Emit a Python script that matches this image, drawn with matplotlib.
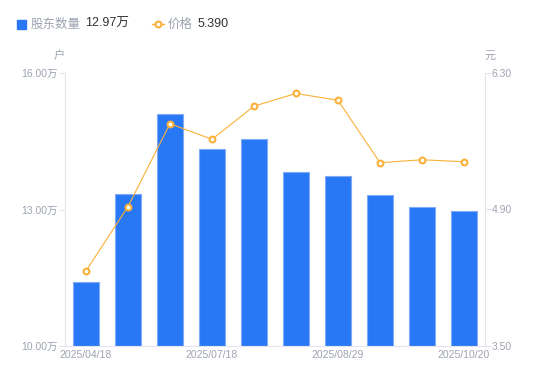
import matplotlib.pyplot as plt
from matplotlib.lines import Line2D
from matplotlib.patches import Rectangle

plt.rcParams['font.family'] = ['Liberation Sans', 'Noto Sans CJK SC']

# data
dates = ['2025/04/18', '', '', '2025/07/18', '', '', '2025/08/29', '', '', '2025/10/20']
holders = [11.41, 13.34, 15.10, 14.33, 14.55, 13.82, 13.74, 13.32, 13.05, 12.97]  # 万户
price = [4.27, 4.93, 5.78, 5.62, 5.96, 6.09, 6.02, 5.38, 5.41, 5.39]

left_ticks = [10.0, 13.0, 16.0]
right_ticks = [3.50, 4.90, 6.30]

blue = '#2878F5'
orange = '#F9B139'
grey = '#9EA3B0'
axis_col = '#E3E5EA'

fig = plt.figure(figsize=(5.5, 3.81), dpi=100)
ax = fig.add_axes([65 / 550, 1 - 346 / 381, 420 / 550, 273 / 381])
ax2 = ax.twinx()

x = list(range(len(holders)))
ax.bar(x, [h - 10 for h in holders], bottom=10, width=0.6, color=blue,
       edgecolor='#7FAAF5', linewidth=0.8, zorder=2)
ax.set_xlim(-0.5, len(holders) - 0.5)
ax.set_ylim(10, 16)

ax2.plot(x, price, color=orange, linewidth=0.8, marker='o', markersize=4.2,
         markerfacecolor='white', markeredgecolor=orange, markeredgewidth=1.5, zorder=3)
ax2.set_ylim(3.5, 6.3)

ax.set_yticks(left_ticks)
ax.set_yticklabels(['%.2f万' % v for v in left_ticks])
ax2.set_yticks(right_ticks)
ax2.set_yticklabels(['%.2f' % v for v in right_ticks])

ax.set_xticks(x)
ax.set_xticklabels(dates)

for a in (ax, ax2):
    for s in a.spines.values():
        s.set_visible(False)
    a.tick_params(axis='y', colors=axis_col, labelcolor=grey, labelsize=7.5,
                  length=4, width=0.8, pad=1)
ax.tick_params(axis='x', length=0, labelcolor=grey, labelsize=7.5, pad=3)
ax.spines['left'].set_visible(True)
ax.spines['left'].set_color(axis_col)
ax.spines['bottom'].set_visible(True)
ax.spines['bottom'].set_color(axis_col)
ax2.spines['right'].set_visible(True)
ax2.spines['right'].set_color(axis_col)

# unit labels
fig.text(59 / 550, 1 - 56 / 381, '户', color=grey, fontsize=8, ha='center', va='center',
         family='Noto Sans CJK SC')
fig.text(490 / 550, 1 - 56 / 381, '元', color=grey, fontsize=8, ha='center', va='center',
         family='Noto Sans CJK SC')

# legend
ly = 1 - 24 / 381
fig.patches.append(Rectangle((17 / 550, 1 - 29 / 381), 9 / 550, 9 / 381,
                             transform=fig.transFigure, color=blue))
fig.text(31 / 550, ly, '股东数量', color=grey, fontsize=9, va='center',
         family='Noto Sans CJK SC')
fig.text(85 / 550, ly, '%.2f万' % holders[-1], color='#333333', fontsize=9, va='center')
fig.lines.append(Line2D([152 / 550, 164 / 550], [ly, ly], transform=fig.transFigure,
                        color=orange, linewidth=1))
fig.lines.append(Line2D([158 / 550], [ly], transform=fig.transFigure, marker='o',
                        markersize=4.2, markerfacecolor='white', markeredgecolor=orange,
                        markeredgewidth=1.5))
fig.text(168 / 550, ly, '价格', color=grey, fontsize=9, va='center',
         family='Noto Sans CJK SC')
fig.text(198 / 550, ly, '%.3f' % price[-1], color='#333333', fontsize=9, va='center')

fig.savefig('out.png', dpi=100)
